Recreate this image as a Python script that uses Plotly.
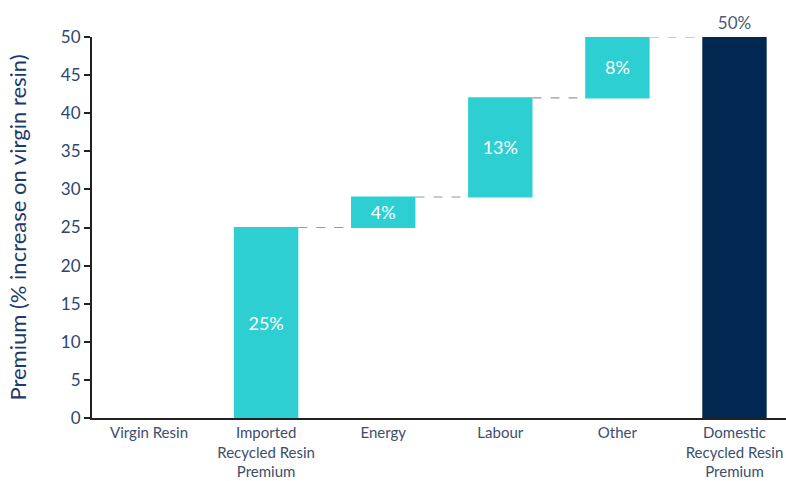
import plotly.graph_objects as go

# Cost build-up of domestic recycled resin premium
categories = ["Virgin Resin", "Imported<br>Recycled Resin<br>Premium", "Energy",
              "Labour", "Other", "Domestic<br>Recycled Resin<br>Premium"]
measures = ["absolute", "relative", "relative", "relative", "relative", "total"]
values = [0, 25, 4, 13, 8, 0]
labels = ["", "25%", "4%", "13%", "8%", "50%"]
y_ticks = list(range(0, 55, 5))

TEAL = "#2ecfd3"
NAVY = "#002850"
TEXT = "#2b4670"
FONT = "Lato"

# The baseline (virgin resin) has no bar, so the waterfall starts at the first step
start = 1
positions = list(range(len(categories)))

fig = go.Figure(go.Waterfall(
    x=positions[start:],
    y=values[start:],
    measure=measures[start:],
    text=labels[start:],
    textposition=["inside", "inside", "inside", "inside", "outside"],
    insidetextanchor="middle",
    insidetextfont=dict(color="white", size=18, family=FONT),
    outsidetextfont=dict(color="#4a5a78", size=17, family=FONT),
    increasing=dict(marker=dict(color=TEAL)),
    totals=dict(marker=dict(color=NAVY)),
    connector=dict(mode="between", line=dict(color="#9a9a9a", width=1.2, dash="dash")),
    width=0.55,
    cliponaxis=False,
    hoverinfo="skip",
))

fig.update_layout(
    width=786, height=481,
    margin=dict(l=92, r=0, t=37, b=63),
    paper_bgcolor="white", plot_bgcolor="white",
    showlegend=False,
    font=dict(family=FONT, color=TEXT),
    xaxis=dict(
        tickmode="array", tickvals=positions, ticktext=categories,
        range=[-0.487, 5.44], automargin=False, ticklabeloverflow="allow",
        showline=True, linecolor="#222222", linewidth=2, layer="above traces",
        ticks="", showgrid=False, zeroline=False,
        tickfont=dict(size=15, color="#3d4d6d", family=FONT),
    ),
    yaxis=dict(
        range=[0, 50], tickvals=y_ticks, automargin=False,
        showline=True, linecolor="#222222", linewidth=2, layer="above traces",
        ticks="outside", ticklen=6, tickcolor="#222222", tickwidth=1.5,
        showgrid=False, zeroline=False,
        tickfont=dict(size=17, color=TEXT, family=FONT),
        title=dict(text="Premium (% increase on virgin resin)",
                   font=dict(size=22, color="#1d3b6a", family=FONT), standoff=28),
    ),
)

fig.write_html("out.html")
